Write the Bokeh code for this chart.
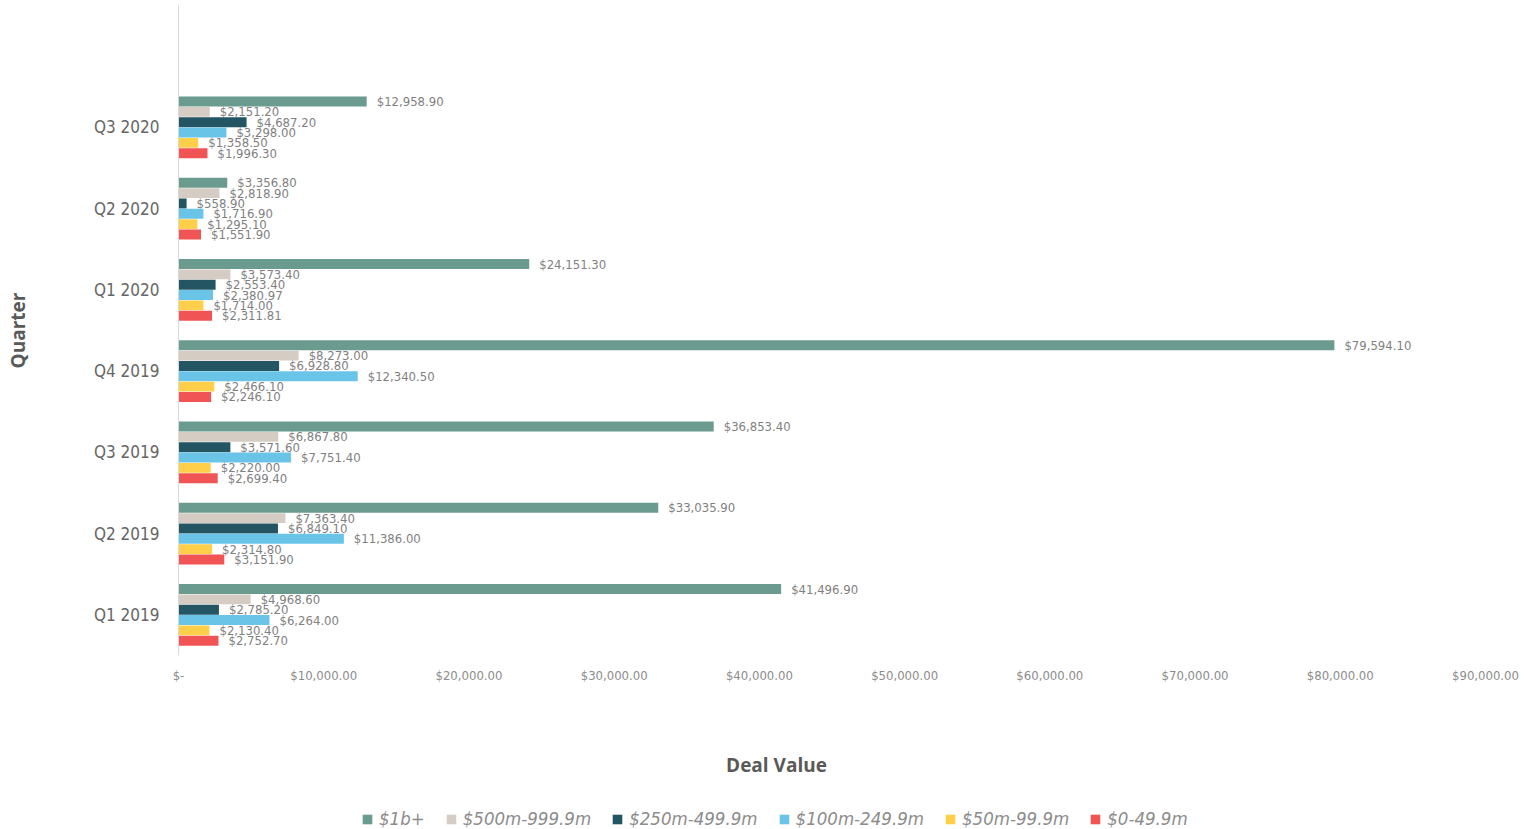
from bokeh.plotting import figure
from bokeh.models import ColumnDataSource, Range1d, FixedTicker, Legend, LegendItem, Label
from bokeh.layouts import column
from bokeh.core.properties import value
from bokeh.embed import file_html
from bokeh.resources import INLINE

quarters = ["Q1 2019", "Q2 2019", "Q3 2019", "Q4 2019", "Q1 2020", "Q2 2020", "Q3 2020"]
series_names = ["$1b+", "$500m-999.9m", "$250m-499.9m", "$100m-249.9m", "$50m-99.9m", "$0-49.9m"]
series_colors = ["#6B9A8F", "#D5CCC3", "#245563", "#6AC4E8", "#FFCF4A", "#F05454"]

v_1b = [41496.90, 33035.90, 36853.40, 79594.10, 24151.30, 3356.80, 12958.90]
v_500m = [4968.60, 7363.40, 6867.80, 8273.00, 3573.40, 2818.90, 2151.20]
v_250m = [2785.20, 6849.10, 3571.60, 6928.80, 2553.40, 558.90, 4687.20]
v_100m = [6264.00, 11386.00, 7751.40, 12340.50, 2380.97, 1716.90, 3298.00]
v_50m = [2130.40, 2314.80, 2220.00, 2466.10, 1714.00, 1295.10, 1358.50]
v_0m = [2752.70, 3151.90, 2699.40, 2246.10, 2311.81, 1551.90, 1996.30]
series_values = [v_1b, v_500m, v_250m, v_100m, v_50m, v_0m]

x_tick_values = [0, 10000, 20000, 30000, 40000, 50000, 60000, 70000, 80000, 90000]
x_tick_labels = ["$-", "$10,000.00", "$20,000.00", "$30,000.00", "$40,000.00",
                 "$50,000.00", "$60,000.00", "$70,000.00", "$80,000.00", "$90,000.00"]

LABEL_FONT = "DejaVu Sans Condensed"
TITLE_FONT = "Open Sans"
LEFT = 178

p = figure(width=1536, height=700, output_backend="svg", toolbar_location=None,
           x_range=Range1d(0, 90000), y_range=Range1d(-0.5, 7.5),
           min_border_left=LEFT, min_border_right=51, min_border_top=5, min_border_bottom=45)
p.outline_line_color = None
p.xgrid.visible = False
p.ygrid.visible = False
p.background_fill_color = "white"
p.border_fill_color = "white"

step = 0.127
bar_h = 0.122
sources = []
for k, (name, color, vals) in enumerate(zip(series_names, series_colors, series_values)):
    off = (2.5 - k) * step
    src = ColumnDataSource(dict(
        y=[i + off for i in range(len(quarters))],
        x=vals,
        lab=["${:,.2f}".format(v) for v in vals],
    ))
    sources.append(src)
    p.hbar(y="y", right="x", left=0, height=bar_h, source=src,
           fill_color=color, line_color=None)
    p.text(x="x", y="y", text="lab", source=src, x_offset=10,
           text_baseline="middle", text_align="left",
           text_font=value(LABEL_FONT),
           text_font_size="13px", text_color="#7F7F7F")

# x axis
p.xaxis.ticker = FixedTicker(ticks=x_tick_values)
p.xaxis.major_label_overrides = {t: l for t, l in zip(x_tick_values, x_tick_labels)}
p.xaxis.axis_line_color = None
p.xaxis.major_tick_line_color = None
p.xaxis.major_tick_out = 0
p.xaxis.minor_tick_line_color = None
p.xaxis.major_label_text_font = LABEL_FONT
p.xaxis.major_label_text_font_size = "13px"
p.xaxis.major_label_text_color = "#8C8C8C"
p.xaxis.major_label_standoff = 12

# y axis
p.yaxis.ticker = FixedTicker(ticks=list(range(len(quarters))))
p.yaxis.major_label_overrides = {i: q for i, q in enumerate(quarters)}
p.yaxis.axis_line_color = "#D9D9D9"
p.yaxis.major_tick_line_color = None
p.yaxis.major_tick_out = 0
p.yaxis.minor_tick_line_color = None
p.yaxis.major_label_text_font = LABEL_FONT
p.yaxis.major_label_text_font_size = "17px"
p.yaxis.major_label_text_color = "#666666"
p.yaxis.major_label_standoff = 19
p.yaxis.axis_label = "Quarter"
p.yaxis.axis_label_text_font = TITLE_FONT
p.yaxis.axis_label_text_font_style = "bold"
p.yaxis.axis_label_text_font_size = "19px"
p.yaxis.axis_label_text_color = "#595959"
p.yaxis.axis_label_standoff = 60

# lower panel: axis title + legend (proxy bars lie outside its visible range)
f2 = figure(width=1536, height=129, output_backend="svg", toolbar_location=None,
            x_range=Range1d(0, 90000), y_range=Range1d(100, 101),
            min_border_left=LEFT, min_border_right=51, min_border_top=0, min_border_bottom=0)
f2.axis.visible = False
f2.grid.visible = False
f2.outline_line_color = None
f2.border_fill_color = "white"

items = []
for name, color, src in zip(series_names, series_colors, sources):
    r = f2.hbar(y="y", right="x", left=0, height=bar_h, source=src,
                fill_color=color, line_color=None)
    items.append(LegendItem(label=name, renderers=[r]))

f2.add_layout(Label(x=776 - LEFT, y=65, x_units="screen", y_units="screen", text="Deal Value",
                    text_align="center", text_baseline="middle",
                    text_font=TITLE_FONT, text_font_style="bold", text_font_size="19px",
                    text_color="#595959"))

legend = Legend(items=items, orientation="horizontal", location=(361 - LEFT, 0),
                glyph_width=12, glyph_height=12, label_standoff=6, spacing=20,
                label_text_font=LABEL_FONT, label_text_font_style="italic",
                label_text_font_size="18.5px", label_text_color="#8C8C8C",
                border_line_color=None, background_fill_alpha=0, margin=0, padding=0)
f2.add_layout(legend)

layout = column(p, f2, spacing=0)
open("out.html", "w").write(file_html(layout, INLINE))
